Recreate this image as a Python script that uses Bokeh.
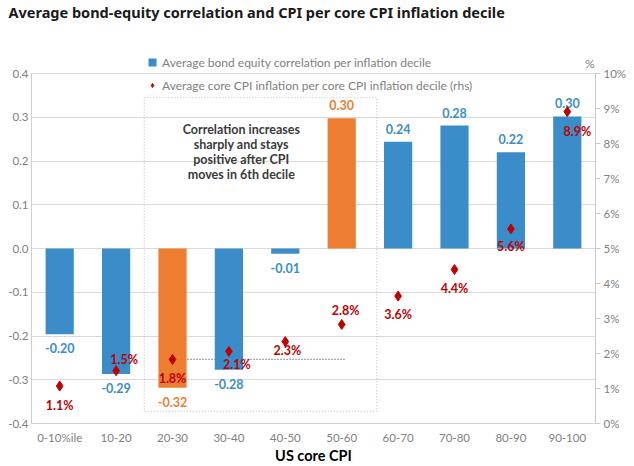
from bokeh.plotting import figure
from bokeh.models import (Range1d, LinearAxis, FixedTicker, PrintfTickFormatter, Legend, LegendItem,
                          Label, BoxAnnotation, ColumnDataSource, FactorRange)
from bokeh.embed import file_html
from bokeh.resources import INLINE
from bokeh.core.properties import value

# ---- data ----
categories = ["0-10%ile", "10-20", "20-30", "30-40", "40-50", "50-60", "60-70", "70-80", "80-90", "90-100"]
correlation = [-0.196, -0.287, -0.318, -0.277, -0.012, 0.298, 0.244, 0.281, 0.220, 0.302]
core_cpi = [1.07, 1.51, 1.83, 2.06, 2.34, 2.83, 3.64, 4.40, 5.56, 8.91]
highlighted = ["20-30", "50-60"]
left_ticks = [-0.4, -0.3, -0.2, -0.1, 0.0, 0.1, 0.2, 0.3, 0.4]
right_ticks = [0, 1, 2, 3, 4, 5, 6, 7, 8, 9, 10]

# label offsets (screen px) for cpi labels
cpi_dx = [0, 8, 0, 8, 2, 4, 0, 0, 0, 10]
cpi_dy = [19, -11, 19, 13, 9, -14, 18, 19, 18, 20]

BLUE = "#3a8dc8"
ORANGE = "#ed7d31"
RED = "#c00000"
GREY_TXT = "#808080"
FONT = "Lato"

colors = [ORANGE if c in highlighted else BLUE for c in categories]

# extra headroom above 0.4 so the legend sits inside the frame
L_LO, L_HI = -0.4, 0.4
HEAD = 0.112
R_HI = 10.0 * (L_HI - L_LO + HEAD) / (L_HI - L_LO)

p = figure(width=632, height=466, x_range=FactorRange(*categories), y_range=Range1d(L_LO, L_HI + HEAD),
           output_backend="svg", toolbar_location=None,
           min_border_left=31, min_border_right=37, min_border_top=24, min_border_bottom=41)
p.extra_y_ranges = {"cpi": Range1d(0, R_HI)}
p.outline_line_color = None
p.background_fill_color = "white"

# title
p.title.text = "Average bond-equity correlation and CPI per core CPI inflation decile"
p.title.text_font = "Noto Sans"
p.title.text_font_size = "14.5px"
p.title.text_font_style = "bold"
p.title.text_color = "#1a1a1a"
p.title.offset = -23
p.title.vertical_align = "top"
p.title.standoff = 2

# axes
p.xaxis.axis_label = "US core CPI"
p.xaxis.axis_label_text_font = FONT
p.xaxis.axis_label_text_font_style = "bold"
p.xaxis.axis_label_text_font_size = "14.5px"
p.xaxis.axis_label_text_color = "black"
p.xaxis.axis_label_standoff = 0
p.xaxis.major_label_text_font = FONT
p.xaxis.major_label_text_font_size = "11.5px"
p.xaxis.major_label_text_color = GREY_TXT
p.xaxis.major_label_standoff = 7
p.xaxis.major_tick_line_color = None
p.xaxis.major_tick_out = 0
p.xaxis.minor_tick_out = 0
p.xaxis.axis_line_color = "#d0d0d0"

p.yaxis.ticker = FixedTicker(ticks=left_ticks)
p.yaxis.formatter = PrintfTickFormatter(format="%.1f")
p.yaxis.bounds = (L_LO, L_HI)
p.yaxis.major_label_text_font = FONT
p.yaxis.major_label_text_font_size = "11.5px"
p.yaxis.major_label_text_color = GREY_TXT
p.yaxis.major_tick_line_color = None
p.yaxis.minor_tick_line_color = None
p.yaxis.major_tick_out = 0
p.yaxis.minor_tick_out = 0
p.yaxis.axis_line_color = "#d0d0d0"
p.yaxis.major_label_standoff = 3

raxis = LinearAxis(y_range_name="cpi", ticker=FixedTicker(ticks=right_ticks),
                   formatter=PrintfTickFormatter(format="%d%%"), bounds=(0, 10))
raxis.major_label_text_font = FONT
raxis.major_label_text_font_size = "11.5px"
raxis.major_label_text_color = GREY_TXT
raxis.axis_line_color = "#c8c8c8"
raxis.major_tick_line_color = "#c8c8c8"
raxis.major_tick_out = 5
raxis.major_tick_in = 0
raxis.minor_tick_line_color = None
raxis.minor_tick_out = 0
raxis.major_label_standoff = 3
p.add_layout(raxis, "right")

p.xgrid.grid_line_color = None
p.ygrid.ticker = FixedTicker(ticks=left_ticks)
p.ygrid.grid_line_color = "#d9d9d9"

# dotted box annotation
box = BoxAnnotation(left=2.0, right=6.12, top=0.345, bottom=-0.372, fill_color=None,
                    line_color="#555555", line_dash="1 2", line_width=1.3)
p.add_layout(box)
p.segment(x0=[2.5], y0=[core_cpi[2]], x1=[5.55], y1=[core_cpi[2]], y_range_name="cpi",
          line_color="#555555", line_dash="1 2", line_width=1.3)

# bars
src = ColumnDataSource(dict(x=categories, top=correlation, color=colors,
                            lbl=["%.2f" % v for v in correlation],
                            dy=[-13 if v >= 0 else 14 for v in correlation]))
bars = p.vbar(x="x", top="top", bottom=0, width=0.5, fill_color="color", line_color=None, source=src)
p.text(x="x", y="top", text="lbl", text_color="color", y_offset="dy", text_align="center",
       text_baseline="middle", text_font=value(FONT), text_font_style="bold", text_font_size="12.5px",
       source=src)

# cpi markers
csrc = ColumnDataSource(dict(x=categories, y=core_cpi, lbl=["%.1f%%" % v for v in core_cpi],
                             dx=cpi_dx, dy=cpi_dy))
pts = p.scatter(x="x", y="y", marker="diamond", size=10, fill_color=RED, line_color=RED,
                y_range_name="cpi", source=csrc)
p.text(x="x", y="y", text="lbl", x_offset="dx", y_offset="dy", y_range_name="cpi",
       text_color=RED, text_align="center", text_baseline="middle", text_font=value(FONT),
       text_font_style="bold", text_font_size="12.5px", source=csrc)

# annotation text
note = Label(x=3.72, y=0.22, text="Correlation increases\nsharply and stays\npositive after CPI\nmoves in 6th decile",
             text_align="center", text_baseline="middle", text_font=FONT, text_font_style="bold",
             text_font_size="12.5px", text_color="#3a3a3a", text_line_height=1.0)
p.add_layout(note)

pct = Label(x=10, y=10, y_range_name="cpi", text="%", text_align="right", text_baseline="bottom",
            x_offset=-1, y_offset=3, text_font=FONT, text_font_size="12px", text_color=GREY_TXT)
p.add_layout(pct)

legend = Legend(items=[LegendItem(label="Average bond equity correlation per inflation decile", renderers=[bars]),
                       LegendItem(label="Average core CPI inflation per core CPI inflation decile (rhs)", renderers=[pts])],
                location=(116, 328), background_fill_alpha=0, border_line_color=None,
                label_text_font=FONT, label_text_font_size="12px", label_text_color=GREY_TXT,
                glyph_width=10, glyph_height=10, spacing=3, padding=0, margin=0, label_height=20)
p.add_layout(legend, "center")

open("out.html", "w").write(file_html(p, INLINE))
